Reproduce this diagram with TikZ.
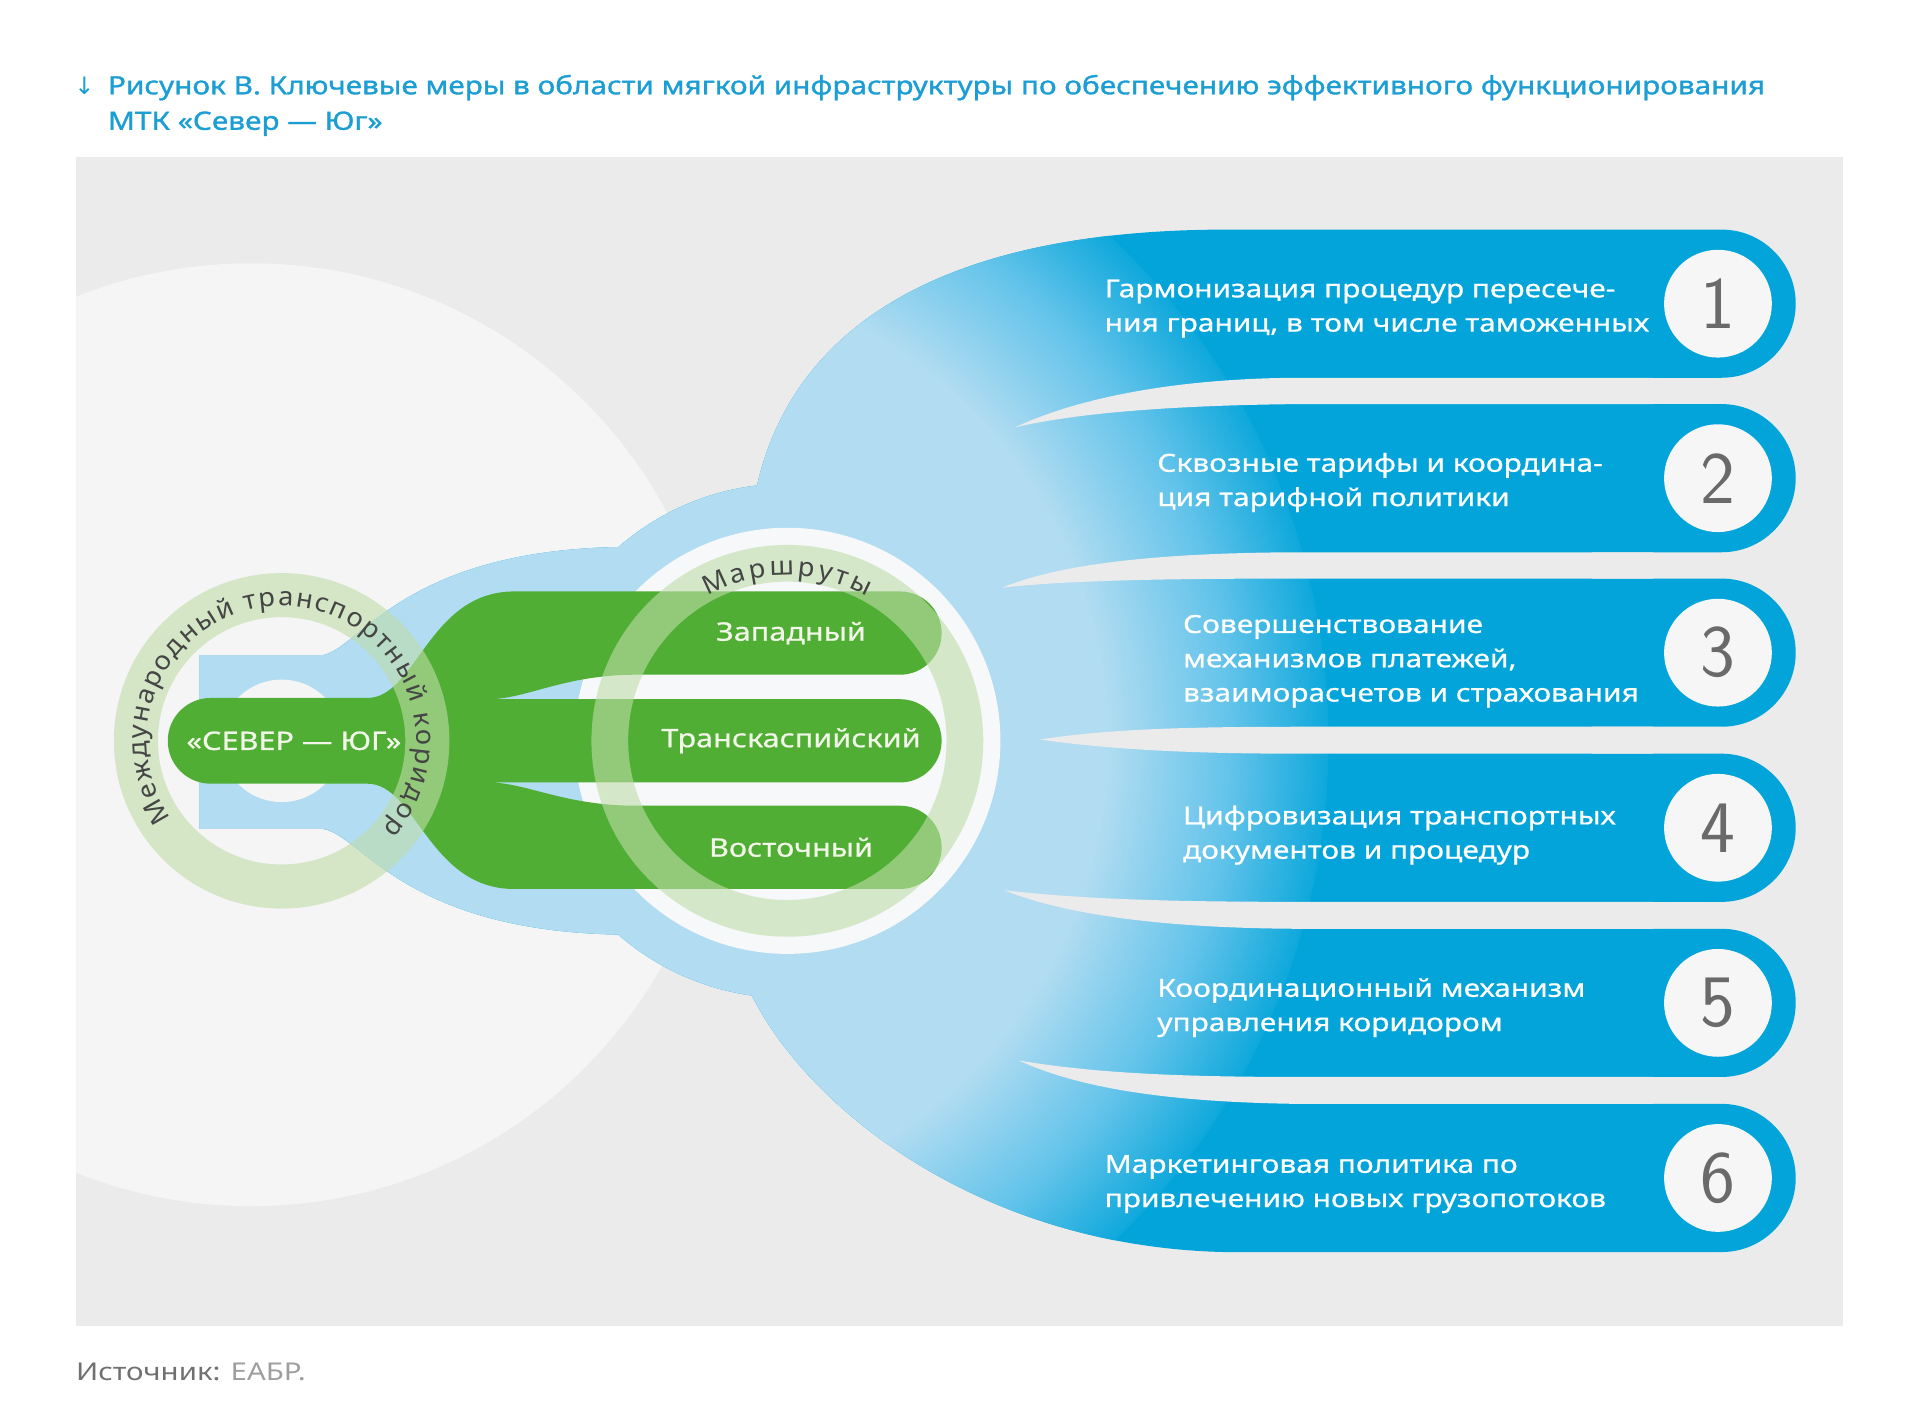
\documentclass[tikz,border=0pt]{standalone}
\usepackage{fontspec}
\setmainfont{Noto Sans}[FakeStretch=1.2]
\newfontfamily\medfont{Noto Sans}[FakeStretch=1.2,FakeBold=0.7]
\newfontfamily\ttlfont{Noto Sans}[FakeStretch=1.18,FakeBold=1.2]
\newfontfamily\ringfont{Noto Sans}[FakeStretch=1.05]
\newfontfamily\arrfont{DejaVu Sans}
\usetikzlibrary{decorations.text}
\definecolor{panel}{HTML}{EBEBEB}
\definecolor{lightc}{HTML}{F5F5F5}
\definecolor{lblue}{HTML}{B1DCF1}
\definecolor{mblue}{HTML}{62C3EA}
\definecolor{cyanb}{HTML}{02A4D9}
\definecolor{gr}{HTML}{50AE34}
\definecolor{cream}{HTML}{F2F6E9}
\definecolor{ringg}{HTML}{BEDDA8}
\definecolor{disk}{HTML}{F6F8F9}
\definecolor{numbg}{HTML}{F6F6F6}
\definecolor{ttl}{HTML}{1B9ED3}
\definecolor{numgray}{HTML}{6A6A6A}
\definecolor{ringtext}{HTML}{454545}
\definecolor{srcA}{HTML}{707070}
\definecolor{srcB}{HTML}{9E9E9E}
\pgfdeclareradialshading{bluerad}{\pgfpoint{0bp}{0bp}}{color(0bp)=(lblue); color(17bp)=(lblue); color(21.5bp)=(mblue); color(25.5bp)=(cyanb); color(50bp)=(cyanb)}
\newcommand\ringfmt{\ringfont\fontsize{26}{30}\selectfont\color{ringtext}}
\newcommand\routefmt{\ringfont\fontsize{26}{30}\selectfont\color{ringtext}}
\begin{document}
\begin{tikzpicture}[x=1.2245pt, y=-1.2245pt,
  itemtxt/.style={anchor=west, text=white, align=left, inner sep=0pt, font=\medfont\fontsize{24.9}{34.3}\selectfont},
  gtxt/.style={text=cream, inner sep=0pt, font=\medfont\fontsize{25.5}{30}\selectfont},
  numc/.style={circle, fill=numbg, minimum size=107.8pt, inner sep=0pt, text=numgray, font=\sffamily\fontsize{74}{74}\selectfont},
  ringpaint/.style={fill=ringg, fill opacity=0.6, even odd rule},
  gapw/.style={fill=panel}]
\useasboundingbox (0,0) rectangle (1568,1146);
\fill[white] (0,0) rectangle (1568,1146);
% title
\node[anchor=base, inner sep=0, text=ttl, font=\arrfont\fontsize{24}{28}\selectfont] (arrow) at (69,77) {↓};
\node[anchor=base west, inner sep=0, text=ttl, font=\ttlfont\fontsize{25.2}{30}\selectfont] (title1) at (88,77) {Рисунок В. Ключевые меры в области мягкой инфраструктуры по обеспечению эффективного функционирования};
\node[anchor=base west, inner sep=0, text=ttl, font=\ttlfont\fontsize{25.2}{30}\selectfont] (title2) at (88,106) {МТК «Север — Юг»};
% panel
\fill[panel] (62,128) rectangle (1505,1083);
\begin{scope}
  \clip (62,128) rectangle (1505,1083);
  \fill[lightc] (205,600) circle (385);
\end{scope}
% blue blob: left frame, halo round the routes, fan with the six bars (one outline)
\begin{scope}
  \clip (163,535) -- (264,535) .. controls (295,528) and (330,450) .. (505,446.7)
    arc (-131.1:-96.8:210)
    .. controls (645,280) and (750,188) .. (1000,187.5)
    -- (1406,187.5) arc (-90:90:60.5) -- (1300,308.5) -- (1300,330)
    -- (1406,330) arc (-90:90:60.5) -- (1300,451) -- (1300,472.5)
    -- (1406,472.5) arc (-90:90:60.5) -- (1300,593.5) -- (1300,615.5)
    -- (1406,615.5) arc (-90:90:60.5) -- (1300,736.5) -- (1300,758.5)
    -- (1406,758.5) arc (-90:90:60.5) -- (1300,879.5) -- (1300,901.5)
    -- (1406,901.5) arc (-90:90:60.5) -- (1000,1022.5)
    .. controls (800,1018) and (660,905) .. (614,813)
    arc (97.9:131.1:210)
    .. controls (330,760) and (295,682) .. (264,677) -- (163,677) -- cycle;
  \fill[cyanb] (60,120) rectangle (1510,1090);
  \shade[shading=bluerad] (520,605) circle (565);
\end{scope}
% hole in the left blue frame
\fill[lightc] (230,605) circle (50);
% gaps between the measure bars
\fill[gapw] (829,349) .. controls (880,325) and (960,309) .. (1060,308.5) -- (1350,308.5) -- (1350,330) -- (1060,330) .. controls (960,331) and (880,337) .. cycle;
\fill[gapw] (818,480) .. controls (860,463) and (930,451.5) .. (1060,451) -- (1350,451) -- (1350,472.5) -- (1060,472.5) .. controls (950,472.5) and (870,474) .. cycle;
\fill[gapw] (849,604) .. controls (900,596) and (960,593.5) .. (1060,593.5) -- (1350,593.5) -- (1350,615.5) -- (1060,615.5) .. controls (960,615.5) and (900,611) .. cycle;
\fill[gapw] (820,727) .. controls (880,734) and (950,736.5) .. (1060,736.5) -- (1350,736.5) -- (1350,758.5) -- (1060,758.5) .. controls (950,758) and (870,747) .. cycle;
\fill[gapw] (832,866) .. controls (890,876) and (960,879.5) .. (1060,879.5) -- (1350,879.5) -- (1350,901.5) -- (1060,901.5) .. controls (950,900) and (880,888) .. cycle;
% white disk of the routes
\fill[disk] (643,605) circle (174);
% green corridor and routes
\fill[gr] (172,570) -- (300,570) .. controls (340,570) and (350,483) .. (420,483) -- (735,483) arc (-90:90:34) -- (520,551) .. controls (460,551) and (430,571) .. (399,571) -- (735,571) arc (-90:90:34) -- (399,639) .. controls (430,639) and (460,658) .. (520,658) -- (735,658) arc (-90:90:34) -- (420,726) .. controls (350,726) and (340,640) .. (300,640) -- (172,640) arc (90:270:35) -- cycle;
% rings
\fill[ringpaint] (230,605) circle (137) (230,605) circle (101);
\fill[ringpaint] (643,605) circle (160) (643,605) circle (130);
% ring texts
\path[decorate, decoration={text along path, text align=fit to path, text={|\ringfmt|Международный транспортный коридор}}] ([shift={(-215:110)}]230,605) arc (-215:41:110);
\path[decorate, decoration={text along path, text align=fit to path, text={|\routefmt|Маршруты}}] ([shift={(-119:135)}]643,605) arc (-119:-61:135);
% green labels
\node[gtxt] (sever) at (240,605) {«СЕВЕР — ЮГ»};
\node[gtxt] (west) at (646,517) {Западный};
\node[gtxt] (trans) at (646,605) {Транскаспийский};
\node[gtxt] (east) at (646,692) {Восточный};
% measures
\node[itemtxt] (t1) at (902,252) {Гармонизация процедур пересече-\\ния границ, в том числе таможенных};
\node[itemtxt] (t2) at (945,394) {Сквозные тарифы и координа-\\ция тарифной политики};
\node[itemtxt] (t3) at (966,540) {Совершенствование\\механизмов платежей,\\взаиморасчетов и страхования};
\node[itemtxt] (t4) at (966,682) {Цифровизация транспортных\\документов и процедур};
\node[itemtxt] (t5) at (945,823) {Координационный механизм\\управления коридором};
\node[itemtxt] (t6) at (902,967) {Маркетинговая политика по\\привлечению новых грузопотоков};
\node[numc] (n1) at (1403,248) {1};
\node[numc] (n2) at (1403,390.5) {2};
\node[numc] (n3) at (1403,533) {3};
\node[numc] (n4) at (1403,676) {4};
\node[numc] (n5) at (1403,819) {5};
\node[numc] (n6) at (1403,962) {6};
% source
\node[anchor=base west, inner sep=0, font=\fontsize{24.5}{29}\selectfont] (src) at (62,1127) {\textcolor{srcA}{\bfseries Источник:} \textcolor{srcB}{ЕАБР.}};
\end{tikzpicture}
\end{document}
